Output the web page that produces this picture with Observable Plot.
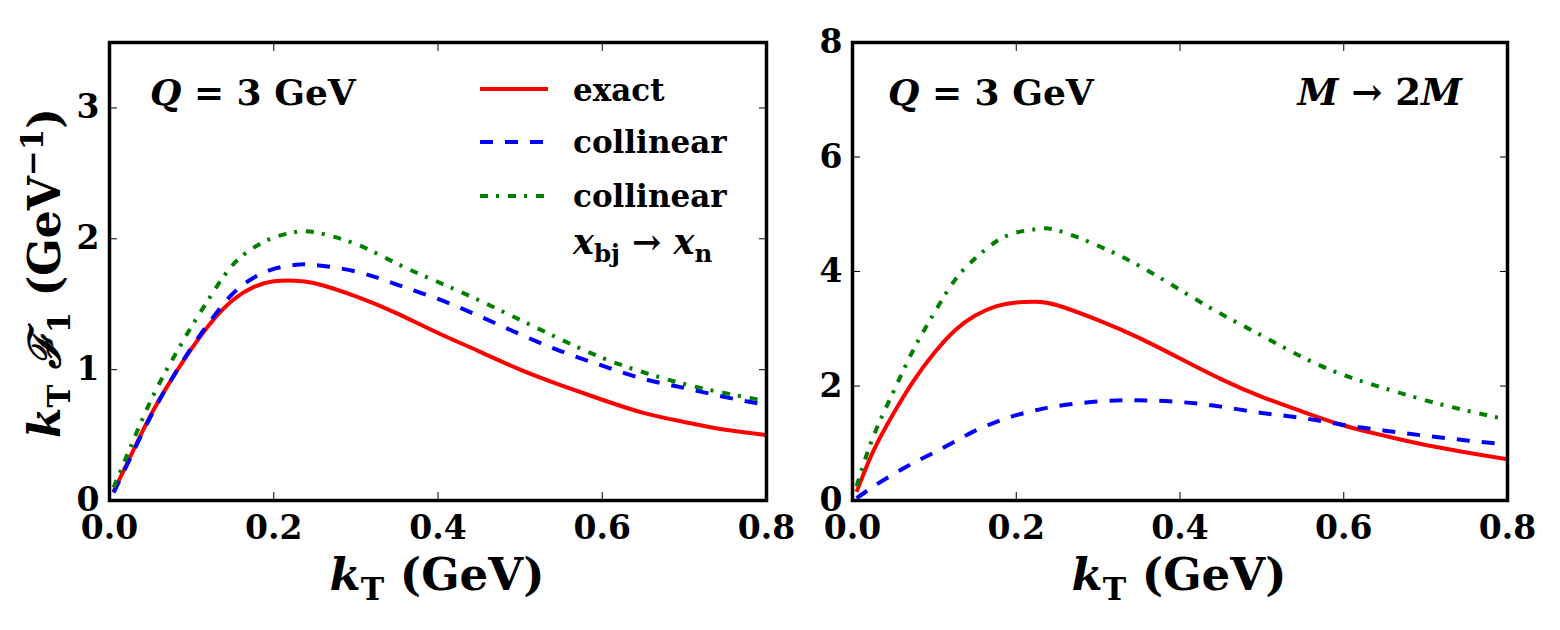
<!DOCTYPE html>
<html>
<head>
<meta charset="utf-8">
<script src="https://cdn.jsdelivr.net/npm/d3@7"></script>
<script src="https://cdn.jsdelivr.net/npm/@observablehq/plot@0.6"></script>
<style>
html, body { margin: 0; padding: 0; background: #fff; }
#wrap { position: relative; width: 1560px; height: 630px; overflow: hidden; background: #fff; }
#wrap svg { position: absolute; top: 0; }
</style>
</head>
<body>
<div id="wrap"></div>
<script>
// ---- data ----
const kT = [0.005, 0.025, 0.05, 0.075, 0.1, 0.125, 0.15, 0.175, 0.2, 0.225, 0.25, 0.3, 0.35, 0.4, 0.45, 0.5, 0.55, 0.6, 0.65, 0.7, 0.75, 0.8];

// left panel: Q = 3 GeV
const leftExact     = [0.07, 0.33, 0.65, 0.92, 1.16, 1.37, 1.53, 1.63, 1.675, 1.68, 1.66, 1.56, 1.43, 1.28, 1.14, 1.00, 0.88, 0.77, 0.67, 0.60, 0.54, 0.50];
const leftCollinear = [0.06, 0.32, 0.64, 0.92, 1.17, 1.39, 1.58, 1.70, 1.77, 1.80, 1.80, 1.75, 1.65, 1.54, 1.41, 1.27, 1.14, 1.03, 0.93, 0.86, 0.79, 0.73];
const leftCollXn    = [0.10, 0.40, 0.76, 1.06, 1.33, 1.58, 1.80, 1.93, 2.01, 2.05, 2.05, 1.96, 1.81, 1.67, 1.53, 1.38, 1.23, 1.09, 0.98, 0.89, 0.82, 0.76];

// right panel: Q = 3 GeV, M -> 2M
const rightExact     = [0.15, 0.85, 1.52, 2.10, 2.58, 2.97, 3.23, 3.39, 3.46, 3.47, 3.41, 3.15, 2.84, 2.48, 2.12, 1.81, 1.55, 1.31, 1.13, 0.97, 0.84, 0.72];
const rightCollinear = [0.04, 0.24, 0.46, 0.66, 0.84, 1.03, 1.22, 1.37, 1.49, 1.58, 1.65, 1.73, 1.75, 1.72, 1.64, 1.53, 1.44, 1.32, 1.22, 1.13, 1.05, 0.98];
const rightCollXn    = [0.25, 1.10, 1.90, 2.65, 3.28, 3.85, 4.23, 4.52, 4.68, 4.74, 4.72, 4.45, 4.10, 3.68, 3.26, 2.88, 2.50, 2.19, 1.96, 1.75, 1.57, 1.41];

const xTicks = [0.0, 0.2, 0.4, 0.6, 0.8];
const leftYTicks = [0, 1, 2, 3];
const rightYTicks = [0, 2, 4, 6, 8];
const seriesNames = ["exact", "collinear", "collinear xbj→xn"];

// ---- styles ----
const FONT = "DejaVu Serif";
const STYLES = {
  "exact": {stroke: "#ff0000", strokeWidth: 4, strokeDasharray: null},
  "collinear": {stroke: "#0000ff", strokeWidth: 4, strokeDasharray: "13,12"},
  "collinear xbj→xn": {stroke: "#007f00", strokeWidth: 4, strokeDasharray: "8,8,3,9"}
};

function rows(values, name) {
  return kT.map((k, i) => ({k, v: values[i], name}));
}

function panel({series, yDomain, yTicks, ml, mr}) {
  const lines = series.map(({values, name}) =>
    Plot.line(rows(values, name), {
      x: "k", y: "v", curve: "natural", clip: true,
      stroke: STYLES[name].stroke, strokeWidth: STYLES[name].strokeWidth,
      strokeDasharray: STYLES[name].strokeDasharray, strokeLinecap: "butt", strokeLinejoin: "round"
    })
  );
  return Plot.plot({
    width: 780, height: 630,
    marginLeft: ml, marginRight: mr, marginTop: 42, marginBottom: 130,
    style: {background: "transparent", fontFamily: FONT, fontWeight: "bold", overflow: "visible"},
    x: {domain: [0, 0.8]},
    y: {domain: yDomain},
    marks: [
      ...lines,
      Plot.axisX(xTicks, {anchor: "bottom", tickSize: 8, dy: -8, tickPadding: 15, tickFormat: d3.format(".1f"),
        label: null, fontSize: 33, fontFamily: FONT, fontWeight: "bold", fill: "black", stroke: "black"}),
      Plot.axisX(xTicks, {anchor: "top", tickSize: 8, dy: 8, tickFormat: () => "", label: null, stroke: "black"}),
      Plot.axisY(yTicks, {anchor: "left", tickSize: 8, dx: 8, tickPadding: 10, tickFormat: d3.format("d"),
        label: null, fontSize: 33, fontFamily: FONT, fontWeight: "bold", fill: "black", stroke: "black"}),
      Plot.axisY(yTicks, {anchor: "right", tickSize: 8, dx: -8, tickFormat: () => "", label: null, stroke: "black"}),
      Plot.frame({stroke: "black", strokeWidth: 3.5})
    ]
  });
}

// text helper: parts = [{t, i(italic), sub, sup, size}]
function addText(svg, parts, x, y, size, anchor = "start", rotate = 0) {
  const t = svg.append("text")
    .attr("transform", `translate(${x},${y}) rotate(${rotate})`)
    .attr("font-family", FONT).attr("font-weight", "bold")
    .attr("font-size", size).attr("text-anchor", anchor).attr("fill", "black");
  let shift = 0;
  parts.forEach(p => {
    const ts = t.append("tspan").text(p.t);
    if (p.i) ts.attr("font-style", "italic");
    let target = 0;
    if (p.sub) target = size * 0.22;
    if (p.sup) target = -size * 0.38;
    if (p.sub || p.sup) ts.attr("font-size", size * 0.7);
    if (p.size) ts.attr("font-size", p.size);
    ts.attr("dy", target - shift);
    shift = target;
  });
  return t;
}

const wrap = document.getElementById("wrap");

// ---- right panel (added first so the left panel's overflowing tick label stays visible) ----
const right = panel({
  series: [
    {values: rightExact, name: "exact"},
    {values: rightCollinear, name: "collinear"},
    {values: rightCollXn, name: "collinear xbj→xn"}
  ],
  yDomain: [0, 8], yTicks: rightYTicks, ml: 72, mr: 53
});
right.style.left = "780px";
wrap.appendChild(right);
const rs = d3.select(right);
addText(rs, [{t: "k", i: true}, {t: "T", sub: true}, {t: " (GeV)"}], 1179 - 780, 590, 45, "middle");
addText(rs, [{t: "Q", i: true}, {t: " = 3 GeV"}], 888 - 780, 105, 36);
addText(rs, [{t: "M", i: true}, {t: " → 2"}, {t: "M", i: true}], 1462 - 780, 105, 37, "end");

// ---- left panel ----
const left = panel({
  series: [
    {values: leftExact, name: "exact"},
    {values: leftCollinear, name: "collinear"},
    {values: leftCollXn, name: "collinear xbj→xn"}
  ],
  yDomain: [0, 3.5], yTicks: leftYTicks, ml: 109, mr: 14
});
left.style.left = "0px";
wrap.appendChild(left);
const ls = d3.select(left);

// y label
addText(ls, [
  {t: "k", i: true}, {t: "T", sub: true}, {t: " "},
  {t: "ℱ", i: true}, {t: "1", sub: true}, {t: " (GeV"}, {t: "−1", sup: true}, {t: ")"}
], 60, 273, 44, "middle", -90);
// x label
addText(ls, [{t: "k", i: true}, {t: "T", sub: true}, {t: " (GeV)"}], 437, 590, 45, "middle");
// annotation
addText(ls, [{t: "Q", i: true}, {t: " = 3 GeV"}], 150, 105, 36);

// legend
const legendRows = [
  {name: "exact", y: 89, label: [{t: "exact"}], ty: 101},
  {name: "collinear", y: 142, label: [{t: "collinear"}], ty: 153},
  {name: "collinear xbj→xn", y: 196, label: [{t: "collinear"}], ty: 207}
];
legendRows.forEach(r => {
  const s = STYLES[r.name];
  ls.append("line").attr("x1", 480).attr("x2", 548).attr("y1", r.y).attr("y2", r.y)
    .attr("stroke", s.stroke).attr("stroke-width", s.strokeWidth)
    .attr("stroke-dasharray", s.strokeDasharray);
  addText(ls, r.label, 573, r.ty, 31);
});
addText(ls, [{t: "x", i: true}, {t: "bj", sub: true}, {t: " → "}, {t: "x", i: true}, {t: "n", sub: true}], 573, 254, 35);
</script>
</body>
</html>
